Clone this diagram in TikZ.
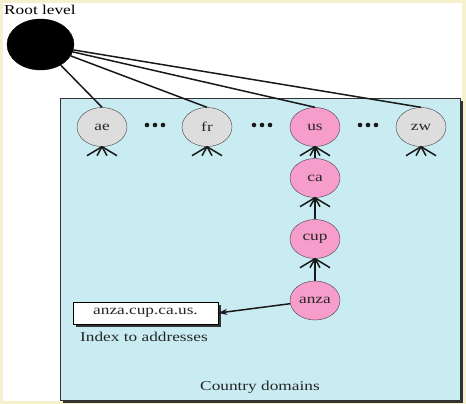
\documentclass[tikz,border=0pt]{standalone}
\usepackage{fontspec}
\newfontfamily\diafont[FakeStretch=1.28]{Liberation Serif}
\usetikzlibrary{positioning, arrows.meta, shapes.geometric, shadows}
\definecolor{cream}{RGB}{246,240,204}
\definecolor{domain-blue}{RGB}{201,235,242}
\definecolor{node-gray}{RGB}{221,221,221}
\definecolor{node-pink}{RGB}{247,157,204}

\begin{document}
\begin{tikzpicture}[x=1pt, y=-1pt, font=\diafont\fontsize{13.5}{16}\selectfont,
	dom/.style={draw=black!75, ellipse, minimum width=50pt, minimum height=39pt, inner sep=0pt, text=black!85},
	link/.style={line width=1.5pt, black!90},
	shade/.style={drop shadow={shadow xshift=3pt, shadow yshift=-3pt, fill=black!80, opacity=1}}]
	% page
	\fill[cream] (0,0) rectangle (466,404);
	\fill[white] (3,3) rectangle (462,401);
	
	% country domains box
	\draw[black!80, fill=domain-blue, shade] (60,98) rectangle (460,400);
	
	\node[draw, ellipse, fill=black, minimum width=67pt, minimum height=51pt] at (40.5,44.5) (root) {};
	\node[anchor=base west, inner sep=0pt] at (4,15) (rootlbl) {Root level};
	
	\node[dom, fill=node-gray] at (102,127) (ae) {ae};
	\node[dom, fill=node-gray] at (207,127) (fr) {fr};
	\node[dom, fill=node-pink] at (315,127) (us) {us};
	\node[dom, fill=node-gray] at (421,127) (zw) {zw};
	
	\node[dom, fill=node-pink] at (315,178) (ca) {ca};
	\node[dom, fill=node-pink] at (315,239) (cup) {cup};
	\node[dom, fill=node-pink] at (315,300.5) (anza) {anza};
	
	\foreach \x in {155,262,368}
		\foreach \d in {-8,0,8}
			\fill[black!90] (\x+\d,125) circle (2.3);
	
	\foreach \n in {ae,fr,us,zw}
		\draw[link] (root) -- (\n.north);
	
	\foreach \n in {ae,fr,us,zw,ca,cup}
		\foreach \dx in {-15,-5,5,15}
			\draw[link] (\n.south) -- ++(\dx,9);
	
	\draw[link] (ca) -- (us);
	\draw[link] (cup) -- (ca);
	\draw[link] (anza) -- (cup);
	
	\node[draw, fill=white, minimum width=145pt, minimum height=22pt, text=black!85, shade] at (145.5,313) (addr) {anza.cup.ca.us.};
	\draw[link, -{Stealth[length=9pt, width=6pt]}] (anza) -- (addr.east);
	
	\node[text=black!85] at (144,337) (idx) {Index to addresses};
	\node[text=black!85] at (260,387) (country) {Country domains};
\end{tikzpicture}
\end{document}
